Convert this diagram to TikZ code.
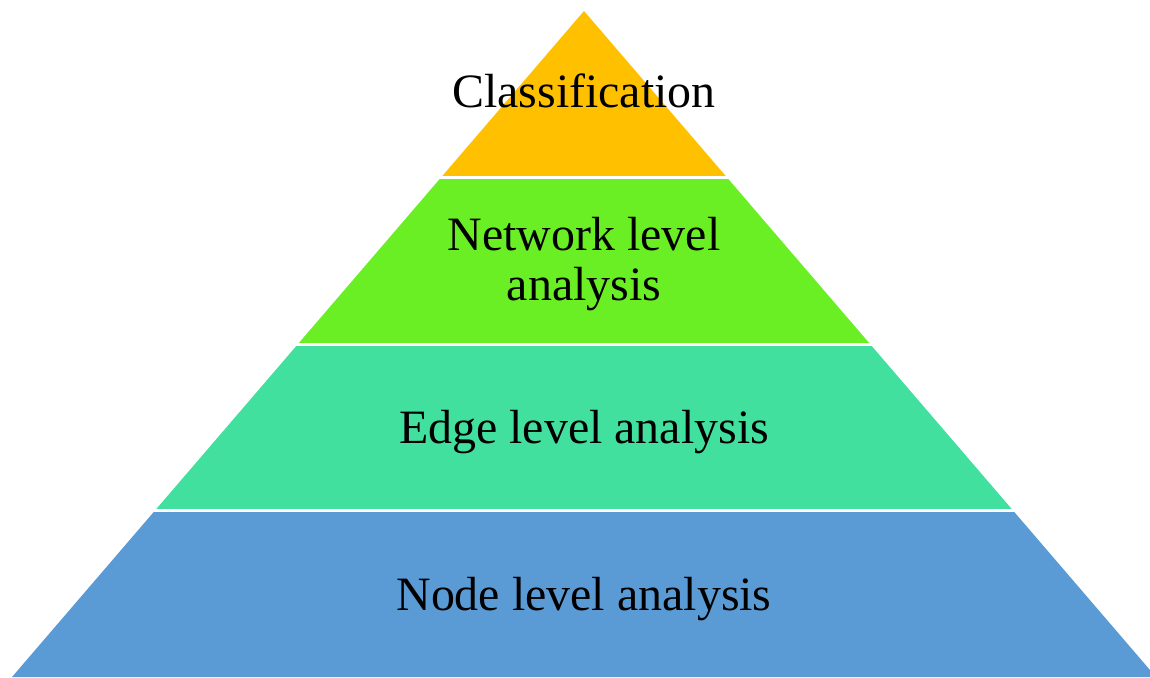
\documentclass[tikz,border=0pt]{standalone}
\usepackage{fontspec}
\setmainfont{Liberation Serif}
\usetikzlibrary{calc}
\definecolor{tierTop}{HTML}{FFC000}
\definecolor{tierNet}{HTML}{69EF23}
\definecolor{tierEdge}{HTML}{41E09E}
\definecolor{tierNode}{HTML}{5B9BD5}
\tikzset{
  tier/.style={draw=none},
  gap/.style={draw=white, line width=3pt},
  label/.style={font=\fontsize{47.9}{50}\selectfont, text=black, anchor=base, align=center, inner sep=0pt}
}
\begin{document}
\begin{tikzpicture}[x=1pt,y=-1pt]
  \useasboundingbox (0,0) rectangle (1150,677);
  \clip (0,0) rectangle (1150,677);
  % outline of the pyramid
  \coordinate (apex) at (584,11);
  \coordinate (bl) at (12,677);
  \coordinate (br) at (1156,677);
  % tier boundaries on each side
  \coordinate (l1) at ($(apex)!0.25!(bl)$);
  \coordinate (r1) at ($(apex)!0.25!(br)$);
  \coordinate (l2) at ($(apex)!0.5!(bl)$);
  \coordinate (r2) at ($(apex)!0.5!(br)$);
  \coordinate (l3) at ($(apex)!0.75!(bl)$);
  \coordinate (r3) at ($(apex)!0.75!(br)$);
  % tiers
  \fill[tierTop]  (apex) -- (r1) -- (l1) -- cycle;
  \fill[tierNet]  (l1) -- (r1) -- (r2) -- (l2) -- cycle;
  \fill[tierEdge] (l2) -- (r2) -- (r3) -- (l3) -- cycle;
  \fill[tierNode] (l3) -- (r3) -- (br) -- (bl) -- cycle;
  % white gaps between tiers
  \draw[gap] ($(l1)+(-4,0)$) -- ($(r1)+(4,0)$);
  \draw[gap] ($(l2)+(-4,0)$) -- ($(r2)+(4,0)$);
  \draw[gap] ($(l3)+(-4,0)$) -- ($(r3)+(4,0)$);
  % labels (base of a two-line node is its last baseline)
  \node[label] (cls) at (584,107) {Classification};
  \node[label] (net) at (584,300) {Network level\\analysis};
  \node[label] (edge) at (584,443) {Edge level analysis};
  \node[label] (node) at (584,610) {Node level analysis};
\end{tikzpicture}
\end{document}
